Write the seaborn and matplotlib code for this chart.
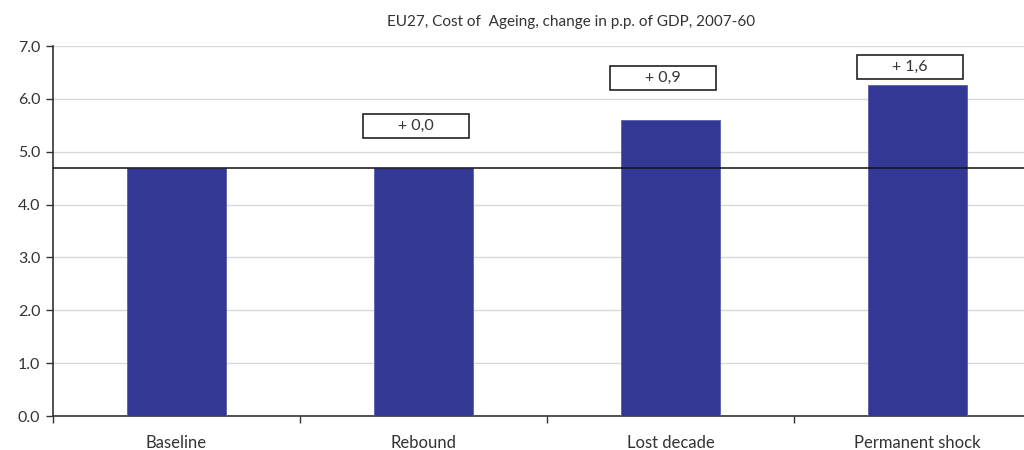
import matplotlib
matplotlib.use("Agg")
import matplotlib.pyplot as plt
import seaborn as sns
import pandas as pd
from matplotlib.patches import Rectangle

scenarios = ["Baseline", "Rebound", "Lost decade", "Permanent shock"]
cost_change = [4.69, 4.69, 5.6, 6.26]
increase_labels = [None, "+ 0,0", "+ 0,9", "+ 1,6"]
baseline_level = 4.69
y_ticks = [0.0, 1.0, 2.0, 3.0, 4.0, 5.0, 6.0, 7.0]

sns.set_style("white")
plt.rcParams["font.family"] = ["Lato", "DejaVu Sans"]
text_color = "#333333"

df = pd.DataFrame({"scenario": scenarios, "value": cost_change})

fig = plt.figure(figsize=(10.24, 4.5), dpi=100)
ax = fig.add_axes([53 / 1024, 34 / 450, 988 / 1024, 370 / 450])

sns.barplot(data=df, x="scenario", y="value", color="#333894",
            width=0.4, saturation=1, ax=ax, zorder=3,
            edgecolor="#5a5fb0", linewidth=0.6)

ax.set_xlim(-0.5, len(scenarios) - 0.5)
ax.set_ylim(0, 7)
ax.set_yticks(y_ticks)
ax.set_yticklabels([f"{t:.1f}" for t in y_ticks])
ax.yaxis.grid(True, color="#d9d9d9", lw=1, zorder=0)
ax.set_axisbelow(True)

ax.axhline(baseline_level, color="#111111", lw=1.1, zorder=4)

for side in ("top", "right"):
    ax.spines[side].set_visible(False)
for side in ("left", "bottom"):
    ax.spines[side].set_color("#333333")
    ax.spines[side].set_linewidth(1.2)

ax.set_xlabel("")
ax.set_ylabel("")
ax.tick_params(axis="y", which="major", left=True, direction="out", length=5,
               width=1, color="#333333", labelsize=11.5, labelcolor=text_color, pad=4)
ax.tick_params(axis="x", which="major", bottom=False, length=0, labelsize=12,
               labelcolor=text_color, pad=14)
ax.set_xticks([i - 0.5 for i in range(len(scenarios) + 1)], minor=True)
ax.tick_params(axis="x", which="minor", bottom=True, direction="out", length=5,
               width=1, color="#333333")

# boxed increase labels above the scenario bars
box_w, box_h = 0.43, 0.45
for i, (val, lab) in enumerate(zip(cost_change, increase_labels)):
    if lab is None:
        continue
    cy = min(val + 0.8, 6.6)
    cx = i - 0.03
    ax.add_patch(Rectangle((cx - box_w / 2, cy - box_h / 2), box_w, box_h,
                           facecolor="white", edgecolor="#222222", lw=1.2,
                           zorder=5, clip_on=False))
    ax.text(cx, cy, lab, ha="center", va="center", fontsize=11.5,
            color=text_color, zorder=6)

fig.text(571 / 1024, 1 - 22 / 450,
         "EU27, Cost of  Ageing, change in p.p. of GDP, 2007-60",
         ha="center", va="center", fontsize=11, color=text_color)

fig.savefig("out.png", dpi=100, facecolor="white")
